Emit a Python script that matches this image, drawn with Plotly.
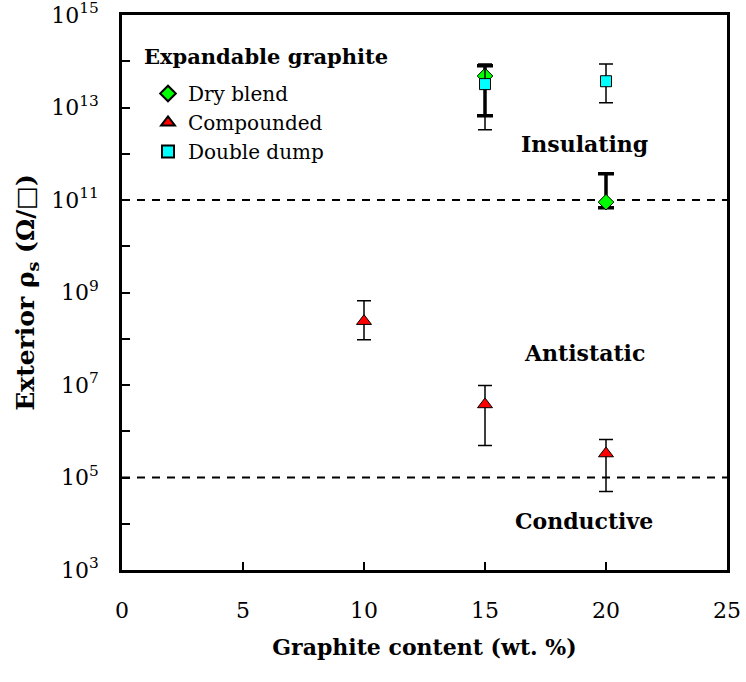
import plotly.graph_objects as go

# ---- data ----
dry_x = [15, 20]
dry_y = [4.8e13, 9.0e10]
dry_hi = [8.0e13, 3.7e11]
dry_lo = [6.6e12, 6.8e10]

comp_x = [10, 15, 20]
comp_y = [2.4e8, 3.8e6, 3.3e5]
comp_hi = [6.6e8, 9.8e6, 6.6e5]
comp_lo = [9.5e7, 4.9e5, 5.0e4]

dd_x = [15, 20]
dd_y = [3.2e13, 3.7e13]
dd_hi = [8.7e13, 8.7e13]
dd_lo = [3.3e12, 1.26e13]

limit_x = [0, 25]
limit_levels = [1e11, 1e5]

region_labels = ["Insulating", "Antistatic", "Conductive"]
region_x = [19.1, 19.1, 19.1]
region_logy = [12.21, 7.70, 4.07]

legend_title = "Expandable graphite"

ytick_vals = [10 ** p for p in range(3, 16)]
ytick_text = [("10<sup>%d</sup>" % p) if p % 2 == 1 else "" for p in range(3, 16)]
xtick_vals = [0, 5, 10, 15, 20, 25]

FONT = "DejaVu Serif"


def err(y, hi, lo):
    return [h - v for v, h in zip(y, hi)], [v - l for v, l in zip(y, lo)]


fig = go.Figure()

for lv in limit_levels:
    fig.add_trace(go.Scatter(x=limit_x, y=[lv, lv], mode="lines",
                             line=dict(color="black", width=2, dash="8px,7px"),
                             showlegend=False, hoverinfo="skip"))

p, m = err(dry_y, dry_hi, dry_lo)
fig.add_trace(go.Scatter(
    x=dry_x, y=dry_y, mode="markers", name="Dry blend",
    marker=dict(symbol="diamond", size=12, color="#00ff00", line=dict(color="black", width=1)),
    error_y=dict(type="data", symmetric=False, array=p, arrayminus=m,
                 color="black", thickness=3.5, width=8)))

p, m = err(comp_y, comp_hi, comp_lo)
fig.add_trace(go.Scatter(
    x=comp_x, y=comp_y, mode="markers", name="Compounded",
    marker=dict(symbol="triangle-up", size=13, color="#ff0000", line=dict(color="black", width=1)),
    error_y=dict(type="data", symmetric=False, array=p, arrayminus=m,
                 color="black", thickness=1.5, width=7)))

p, m = err(dd_y, dd_hi, dd_lo)
fig.add_trace(go.Scatter(
    x=dd_x, y=dd_y, mode="markers", name="Double dump",
    marker=dict(symbol="square", size=11, color="#00ffff", line=dict(color="black", width=1)),
    error_y=dict(type="data", symmetric=False, array=p, arrayminus=m,
                 color="black", thickness=1.5, width=7)))

for t, x, ly in zip(region_labels, region_x, region_logy):
    fig.add_annotation(x=x, y=ly, text="<b>%s</b>" % t, showarrow=False,
                       font=dict(family=FONT, size=22, color="black"))

# legend heading
fig.add_annotation(x=(142 - 122) / 605, y=1 - (56 - 15) / 555, xref="paper", yref="paper",
                   xanchor="left", yanchor="middle", showarrow=False,
                   text="<b>%s</b>" % legend_title,
                   font=dict(family=FONT, size=21, color="black"))

fig.update_layout(
    width=746, height=682,
    margin=dict(l=122, r=19, t=15, b=112),
    paper_bgcolor="white", plot_bgcolor="white",
    font=dict(family=FONT, size=20, color="black"),
    showlegend=True,
    legend=dict(x=(148 - 122) / 605, y=1 - (74 - 15) / 555, xanchor="left", yanchor="top",
                bgcolor="rgba(0,0,0,0)",
                font=dict(family=FONT, size=20, color="black"),
                tracegroupgap=0, itemsizing="constant"),
    xaxis=dict(range=[0, 25], tickvals=xtick_vals, ticks="inside", ticklen=8,
               tickwidth=2, tickcolor="black", automargin=False,
               ticklabelstandoff=19,
               showline=True, linecolor="black", linewidth=2.5, mirror=True,
               showgrid=False, zeroline=False,
               tickfont=dict(family=FONT, size=22),
               title=dict(text="<b>Graphite content (wt. %)</b>",
                          font=dict(family=FONT, size=22), standoff=18)),
    yaxis=dict(type="log", range=[3, 15], tickvals=ytick_vals, ticktext=ytick_text,
               ticks="inside", ticklen=8, tickwidth=2, tickcolor="black",
               ticklabeloverflow="allow", automargin=False,
               ticklabelstandoff=16,
               showline=True, linecolor="black", linewidth=2.5, mirror=True,
               showgrid=False, zeroline=False,
               tickfont=dict(family=FONT, size=22),
               title=dict(text="<b>Exterior ρ<sub>s</sub> (Ω/□)</b>",
                          font=dict(family=FONT, size=25), standoff=10)),
)

fig.write_html("out.html")
